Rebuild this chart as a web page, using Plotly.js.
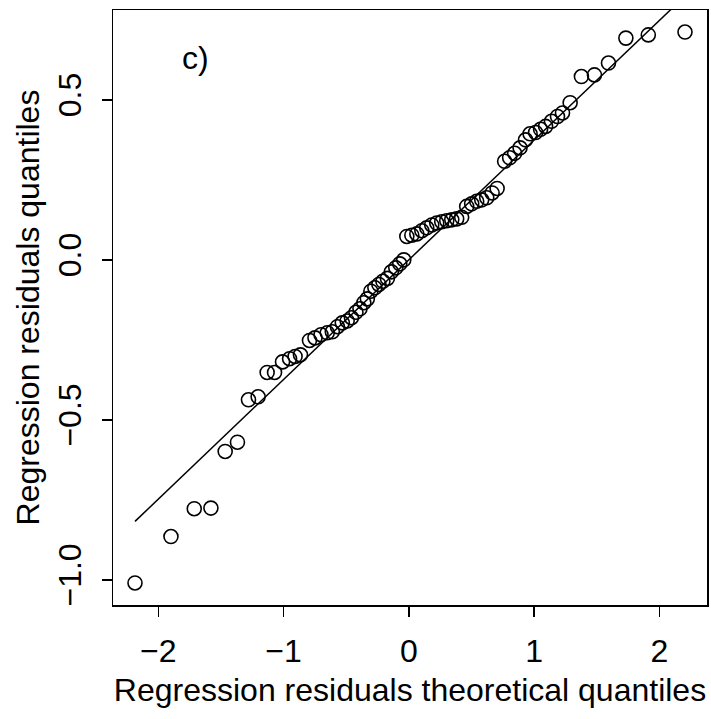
<!DOCTYPE html>
<html>
<head>
<meta charset="utf-8">
<script src="https://cdn.plot.ly/plotly-3.0.1.min.js"></script>
<style>html,body{margin:0;padding:0;background:#fff;}#chart{width:711px;height:719px;}</style>
</head>
<body>
<div id="chart"></div>
<script>
// Theoretical quantiles (x) and sample residual quantiles (y)
var theoretical = [-2.186,-1.899,-1.713,-1.580,-1.466,-1.368,-1.280,-1.203,-1.131,-1.072,
  -1.008,-0.952,-0.908,-0.865,-0.793,-0.749,-0.701,-0.651,-0.611,-0.570,
  -0.531,-0.492,-0.458,-0.422,-0.390,-0.359,-0.331,-0.303,-0.271,-0.239,
  -0.207,-0.171,-0.139,-0.104,-0.072,-0.040,-0.016,0.024,0.064,0.104,
  0.143,0.183,0.223,0.263,0.303,0.343,0.382,0.422,0.462,0.502,
  0.542,0.582,0.622,0.665,0.705,0.765,0.805,0.845,0.888,0.932,
  0.968,1.012,1.052,1.092,1.139,1.187,1.227,1.288,1.378,1.482,
  1.594,1.733,1.912,2.205];
var residuals = [-1.010,-0.865,-0.778,-0.776,-0.599,-0.570,-0.4375,-0.428,-0.352,-0.352,
  -0.319,-0.309,-0.302,-0.297,-0.252,-0.244,-0.234,-0.228,-0.225,-0.209,
  -0.197,-0.191,-0.181,-0.164,-0.153,-0.134,-0.122,-0.098,-0.0875,-0.077,
  -0.067,-0.058,-0.0375,-0.025,-0.0125,0.000,0.073,0.077,0.081,0.091,
  0.100,0.109,0.115,0.119,0.122,0.125,0.128,0.133,0.167,0.175,
  0.183,0.1875,0.194,0.209,0.223,0.308,0.319,0.333,0.350,0.375,
  0.394,0.398,0.408,0.417,0.433,0.448,0.459,0.491,0.573,0.578,
  0.615,0.693,0.703,0.712];
// Reference line (qqline) parameters
var lineIntercept = 0.0;
var lineSlope = 0.374;

var xTickVals = [-2, -1, 0, 1, 2];
var xTickText = ['\u22122', '\u22121', '0', '1', '2'];
var yTickVals = [-1.0, -0.5, 0.0, 0.5];
var yTickText = ['\u22121.0', '\u22120.5', '0.0', '0.5'];

var xLabel = 'Regression residuals theoretical quantiles';
var yLabel = 'Regression residuals quantiles';
var panelLabel = 'c)';

function rRange(arr) {
  var mn = Math.min.apply(null, arr), mx = Math.max.apply(null, arr);
  var pad = 0.04 * (mx - mn);
  return [mn - pad, mx + pad];
}
var xr = rRange(theoretical), yr = rRange(residuals);
var xMin = Math.min.apply(null, theoretical), xMax = Math.max.apply(null, theoretical);

var font = {family: 'Liberation Sans, Arial, sans-serif', size: 32, color: '#000'};

var traces = [
  {
    x: theoretical, y: residuals, type: 'scatter', mode: 'markers',
    marker: {symbol: 'circle-open', size: 14, color: '#000', line: {width: 1.6, color: '#000'}},
    cliponaxis: false, hoverinfo: 'skip'
  },
  {
    x: [xMin, xMax], y: [lineIntercept + lineSlope * xMin, lineIntercept + lineSlope * xMax],
    type: 'scatter', mode: 'lines', line: {color: '#000', width: 1.5}, cliponaxis: true, hoverinfo: 'skip'
  }
];

var layout = {
  width: 711, height: 719,
  margin: {l: 113, r: 4, t: 10, b: 114, pad: 0},
  paper_bgcolor: '#fff', plot_bgcolor: '#fff',
  showlegend: false,
  font: font,
  xaxis: {
    range: xr, tickvals: xTickVals, ticktext: xTickText,
    showgrid: false, zeroline: false, showline: true, mirror: true,
    linecolor: '#000', linewidth: 1.5, ticks: 'outside', ticklen: 10, tickwidth: 1.5, tickcolor: '#000',
    tickfont: font, automargin: false, ticklabelstandoff: 7,
    title: {text: xLabel, font: font, standoff: 10}
  },
  yaxis: {
    range: yr, tickvals: yTickVals, ticktext: yTickText, tickangle: -90,
    showgrid: false, zeroline: false, showline: true, mirror: true,
    linecolor: '#000', linewidth: 1.5, ticks: 'outside', ticklen: 10, tickwidth: 1.5, tickcolor: '#000',
    tickfont: font, automargin: false, ticklabelstandoff: 8,
    title: {text: yLabel, font: font, standoff: 2}
  },
  annotations: [{
    x: -1.705, y: 0.631, xref: 'x', yref: 'y', text: panelLabel, showarrow: false,
    font: font, xanchor: 'center', yanchor: 'middle'
  }]
};

Plotly.newPlot('chart', traces, layout, {displayModeBar: false, staticPlot: true});
</script>
</body>
</html>
